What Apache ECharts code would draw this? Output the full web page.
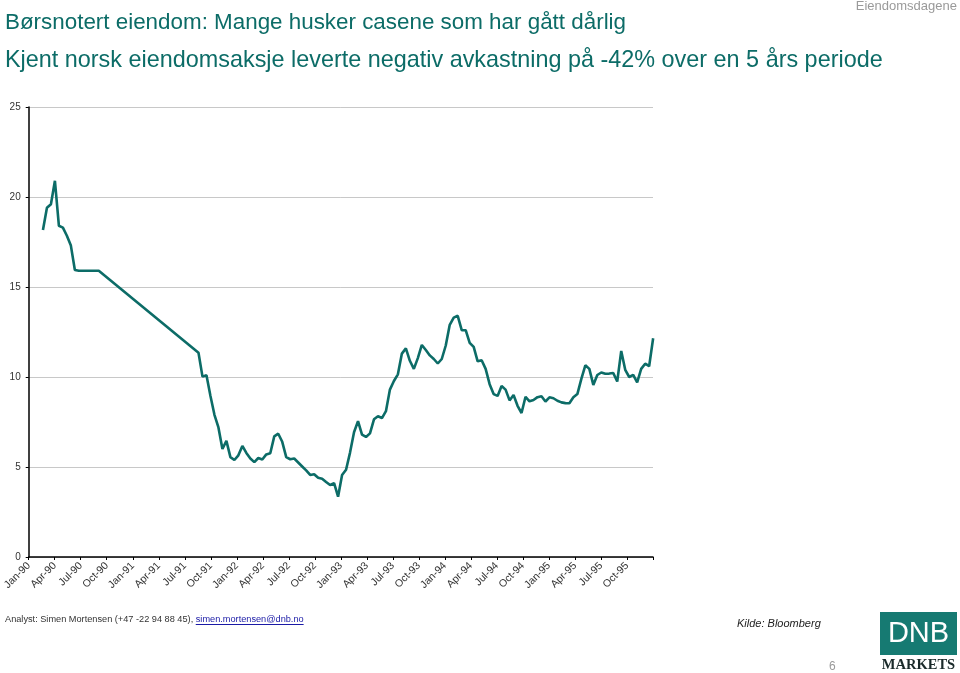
<!DOCTYPE html>
<html><head><meta charset="utf-8">
<script src="https://cdn.jsdelivr.net/npm/echarts@6/dist/echarts.min.js"></script>
<style>html,body{margin:0;padding:0;background:#fff}#c{width:960px;height:673px}</style>
</head><body><div id="c"></div>
<script>
// Title texts
var titleLine1 = 'Børsnotert eiendom: Mange husker casene som har gått dårlig';
var titleLine2 = 'Kjent norsk eiendomsaksje leverte negativ avkastning på -42% over en 5 års periode';
var analystText = 'Analyst: Simen Mortensen (+47 -22 94 88 45), ';
var analystMail = 'simen.mortensen@dnb.no';
var monthNames = ['Jan','Feb','Mar','Apr','May','Jun','Jul','Aug','Sep','Oct','Nov','Dec'];
// Series: biweekly closes starting at this date (null = no quote, line bridged)
var startDate = '1990-02-20';
var stepDays = 14;
var prices = [
 18.17,19.4,19.6,20.9,18.4,18.3,17.85,17.3,15.94,15.9,15.9,15.9,15.9,15.9,15.9,
 null,null,null,null,null,null,null,null,null,null,null,null,null,null,null,null,null,null,null,null,null,null,null,null,
 11.35,10.02,10.1,8.95,7.9,7.2,6.0,6.45,5.55,5.39,5.65,6.17,5.78,5.47,5.27,5.5,5.42,5.7,5.76,6.7,6.85,6.4,
 5.55,5.43,5.47,5.25,5.03,4.81,4.56,4.6,4.4,4.35,4.17,4.0,4.1,3.35,4.55,4.85,5.8,6.93,7.55,6.8,
 6.67,6.87,7.65,7.82,7.72,8.1,9.3,9.78,10.15,11.3,11.59,10.9,10.45,11.05,11.78,11.5,11.2,11.0,10.75,11.0,
 11.75,12.9,13.3,13.4,12.6,12.6,11.9,11.67,10.87,10.93,10.45,9.6,9.05,8.95,9.5,9.3,8.7,9.0,8.4,8.0,
 8.9,8.65,8.72,8.88,8.93,8.64,8.87,8.82,8.68,8.59,8.55,8.54,8.87,9.05,9.9,10.65,10.45,9.56,10.11,10.25,
 10.18,10.19,10.22,9.75,11.45,10.4,10.0,10.12,9.7,10.45,10.74,10.6,12.15
];
var yTicks = [0,5,10,15,20,25];

var base = Date.UTC(1990,0,1);
var start = Date.parse(startDate + 'T00:00:00Z');
var monthMs = 365.25/12*86400000;
var seriesData = prices.map(function(v,i){
  var t = start + i*stepDays*86400000;
  return [(t-base)/monthMs, v];
});

var ff = 'Liberation Sans, Arial, sans-serif';
var footSize = 9.2;
var ctx = document.createElement('canvas').getContext('2d');
ctx.font = footSize + 'px ' + ff;
var linkX = 5 + ctx.measureText(analystText).width;
var linkW = ctx.measureText(analystMail).width;

var chart = echarts.init(document.getElementById('c'));
var teal = '#0c6c67';
chart.setOption({
  animation:false,
  textStyle:{fontFamily:ff},
  grid:{left:27,right:307,top:107,bottom:116,containLabel:false},
  xAxis:{type:'value',min:0,max:72,interval:3,
    axisLine:{show:true,onZero:false,lineStyle:{color:'#000',width:1.5}},
    axisTick:{show:true,length:3,lineStyle:{color:'#000'}},
    splitLine:{show:false},
    axisLabel:{rotate:45,fontSize:10.5,color:'#333',margin:7,
      formatter:function(v){ if(v>=72) return ''; var m=Math.round(v); var y=1990+Math.floor(m/12); return monthNames[m%12]+'-'+String(y).slice(2);}}},
  yAxis:{type:'value',min:yTicks[0],max:yTicks[yTicks.length-1],interval:5,
    axisLine:{show:true,lineStyle:{color:'#000',width:1.5}},
    axisTick:{show:true,length:3,lineStyle:{color:'#000'}},
    splitLine:{show:true,lineStyle:{color:'#c8c8c8',width:1}},
    axisLabel:{fontSize:10,color:'#333',margin:8}},
  series:[{type:'line',data:seriesData,showSymbol:false,connectNulls:true,clip:false,
    lineStyle:{color:teal,width:2.6},itemStyle:{color:teal}}],
  graphic:[
    {type:'text',x:5,y:23,style:{text:titleLine1,fontSize:22.4,fill:teal,fontFamily:ff,verticalAlign:'middle'}},
    {type:'text',x:5,y:61,style:{text:titleLine2,fontSize:23.4,fill:teal,fontFamily:ff,verticalAlign:'middle'}},
    {type:'text',right:3,top:0,style:{text:'Eiendomsdagene',fontSize:13,fill:'#9a9a9a',fontFamily:ff}},
    {type:'text',x:5,y:619,style:{text:analystText,fontSize:footSize,fill:'#333',fontFamily:ff,verticalAlign:'middle'}},
    {type:'text',x:linkX,y:619,style:{text:analystMail,fontSize:footSize,fill:'#1a1aa6',fontFamily:ff,verticalAlign:'middle'}},
    {type:'line',shape:{x1:linkX,y1:624.5,x2:linkX+linkW,y2:624.5},style:{stroke:'#1a1aa6',lineWidth:1}},
    {type:'text',left:737,top:618,style:{text:'Kilde: Bloomberg',fontSize:11,fontStyle:'italic',fill:'#222',fontFamily:ff}},
    {type:'text',left:829,top:661,style:{text:'6',fontSize:12,fill:'#999',fontFamily:ff}},
    {type:'rect',shape:{x:880,y:612,width:77,height:43},style:{fill:'#167a72'}},
    {type:'text',x:918.5,y:634,style:{text:'DNB',fontSize:29,fill:'#fff',fontFamily:ff,align:'center',verticalAlign:'middle'}},
    {type:'text',x:918.5,y:665,style:{text:'MARKETS',fontSize:14.5,fontWeight:'bold',fill:'#1a2a2a',fontFamily:'Liberation Serif, Times New Roman, serif',align:'center',verticalAlign:'middle'}}
  ]
});
</script></body></html>
